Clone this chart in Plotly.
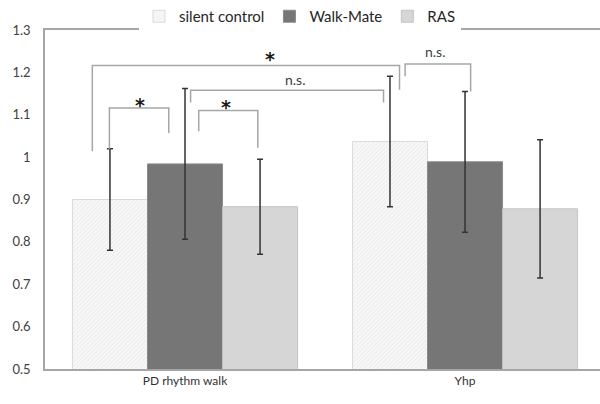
import plotly.graph_objects as go

categories = ["PD rhythm walk", "Yhp"]
series_names = ["silent control", "Walk-Mate", "RAS"]
means = {
    "silent control": [0.900, 1.037],
    "Walk-Mate": [0.984, 0.989],
    "RAS": [0.883, 0.878],
}
errors = {
    "silent control": [0.120, 0.154],
    "Walk-Mate": [0.178, 0.166],
    "RAS": [0.112, 0.163],
}
y_ticks = [0.5, 0.6, 0.7, 0.8, 0.9, 1, 1.1, 1.2, 1.3]
y_tick_text = ["0.5", "0.6", "0.7", "0.8", "0.9", "1", "1.1", "1.2", "1.3"]

# significance brackets: (x_left, x_right, y_top, y_left_end, y_right_end, label, label_x, label_y)
brackets = [
    (-0.331, 0.766, 1.216, 1.014, 1.159, "*", 0.302, 1.232),
    (0.020, 0.709, 1.158, 1.129, 1.129, "n.s.", 0.391, 1.183),
    (-0.270, -0.058, 1.116, 1.019, 1.057, "*", -0.1625, 1.124),
    (0.049, 0.260, 1.110, 1.061, 1.022, "*", 0.147, 1.119),
    (0.786, 1.020, 1.220, 1.191, 1.155, "n.s.", 0.891, 1.250),
]

styles = {
    "silent control": dict(color="#f4f4f4", line=dict(color="#dadada", width=1),
                           pattern=dict(shape="/", fgcolor="#dcdcdc", bgcolor="#f8f8f8", size=3, solidity=0.3)),
    "Walk-Mate": dict(color="#767676", line=dict(color="#8a8a8a", width=1)),
    "RAS": dict(color="#d6d6d6", line=dict(color="#c4c4c4", width=1)),
}

fig = go.Figure()
for name in series_names:
    fig.add_trace(go.Bar(
        name=name, x=[0, 1], y=means[name],
        marker=styles[name],
        error_y=dict(type="data", array=errors[name], visible=True,
                     color="#333333", thickness=1.5, width=3),
    ))

shapes = []
annotations = []
bcol = "#a6a6a6"
for xl, xr, yt, yl, yr, lab, lx, ly in brackets:
    shapes.append(dict(type="path", xref="x", yref="y",
                       path=f"M {xl},{yl} L {xl},{yt} L {xr},{yt} L {xr},{yr}",
                       line=dict(color=bcol, width=1.5)))
    if lab == "*":
        annotations.append(dict(x=lx, y=ly, xref="x", yref="y", text="<b>*</b>", showarrow=False,
                                font=dict(size=19, color="#1a1a1a", family="DejaVu Sans"),
                                yanchor="middle"))
    else:
        annotations.append(dict(x=lx, y=ly, xref="x", yref="y", text=lab, showarrow=False,
                                font=dict(size=14, color="#404040", family="Lato"),
                                yanchor="middle"))

fig.update_layout(
    width=600, height=404,
    margin=dict(l=45, r=0, t=30, b=35, autoexpand=False),
    paper_bgcolor="white", plot_bgcolor="white",
    barmode="group", bargap=0.196, bargroupgap=0,
    font=dict(family="Lato", color="#404040", size=12),
    legend=dict(orientation="h", xref="container", x=0.5, xanchor="center",
                yref="container", y=1.0, yanchor="top",
                font=dict(size=15, color="#262626"), itemwidth=30, traceorder="normal"),
    xaxis=dict(range=[-0.5, 1.482], tickmode="array", tickvals=[0, 1], ticktext=categories,
               showline=True, linecolor="#a6a6a6", linewidth=1.5, mirror=True,
               showgrid=False, zeroline=False, ticks="", tickfont=dict(size=12, color="#333333")),
    yaxis=dict(range=[0.5, 1.3], tickmode="array", tickvals=y_ticks, ticktext=y_tick_text,
               showline=True, linecolor="#a6a6a6", linewidth=1.5,
               showgrid=False, zeroline=False, ticks="", tickfont=dict(size=13, color="#404040"),
               ticklabelstandoff=10),
    shapes=shapes, annotations=annotations,
)

fig.write_html("out.html")
